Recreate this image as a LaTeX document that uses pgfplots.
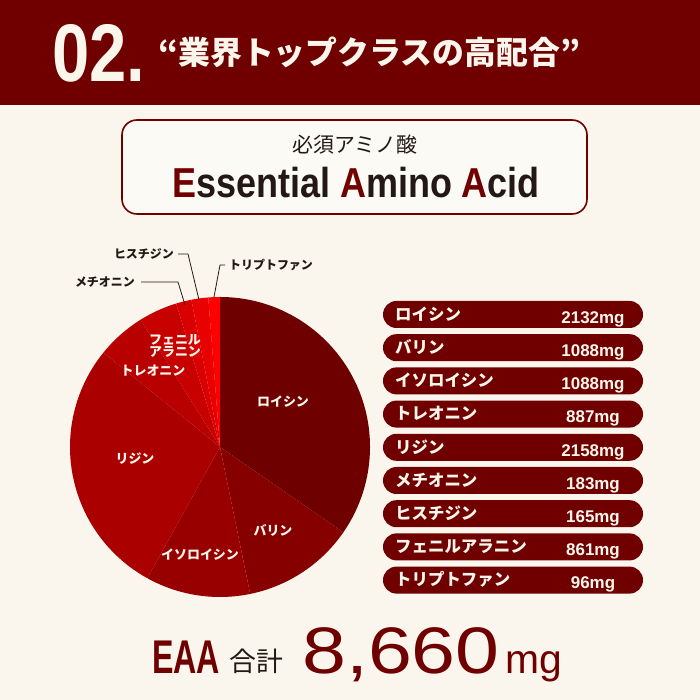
\documentclass[border=0pt]{standalone}
\usepackage{pgfplots}
\pgfplotsset{compat=1.18}
\usepackage{pgfplotstable}
\usepackage{fontspec}
\usepackage{graphicx}
\setmainfont{Liberation Sans}
\newfontfamily\jp{Noto Sans CJK JP}

\definecolor{bg}{HTML}{FAF6EE}
\definecolor{boxbg}{HTML}{FCFAF5}
\definecolor{dred}{HTML}{700000}
\definecolor{ink}{HTML}{231815}
\definecolor{cream}{HTML}{FBF6EC}
\definecolor{p1}{HTML}{6F0000}
\definecolor{p2}{HTML}{860000}
\definecolor{p3}{HTML}{980000}
\definecolor{p4}{HTML}{AA0000}
\definecolor{p5}{HTML}{B80000}
\definecolor{p6}{HTML}{C70000}
\definecolor{p7}{HTML}{D80000}
\definecolor{p8}{HTML}{E90000}
\definecolor{p9}{HTML}{FF0000}

% list on the right, mg per serving
\pgfplotstableread{
name mg
ロイシン 2132
バリン 1088
イソロイシン 1088
トレオニン 887
リジン 2158
メチオニン 183
ヒスチジン 165
フェニルアラニン 861
トリプトファン 96
}\amino

% pie, clockwise from 12 o'clock, slice angle in degrees as drawn
\pgfplotstableread{
name deg col
ロイシン 124.7 p1
バリン 43.7 p2
イソロイシン 40.6 p3
リジン 100.0 p4
トレオニン 19.0 p5
フェニルアラニン 15.0 p6
メチオニン 6.0 p7
ヒスチジン 6.5 p8
トリプトファン 4.5 p9
}\slices

\begin{document}
\begin{tikzpicture}[x=1bp,y=1bp]
\fill[bg] (0,0) rectangle (700,700);

% header
\fill[dred] (0,595) rectangle (700,700);
\node[anchor=base west,inner sep=0,text=cream] at (52,618)
  {\scalebox{0.82}[1]{\fontsize{82}{82}\selectfont\bfseries 02.}};
\node[anchor=west,inner sep=0,text=cream,font=\jp\bfseries\fontsize{32}{32}\selectfont]
  at (158,647.5) {“業界トップクラスの高配合”};

% title box
\draw[dred,line width=1.6,fill=boxbg,rounded corners=15] (122,486) rectangle (587,580);
\node[inner sep=0,text=ink,font=\jp\fontsize{21}{21}\selectfont] at (355,555) {必須アミノ酸};
\node[anchor=base,inner sep=0,text=ink] at (356,502)
  {\scalebox{0.86}[1]{\fontsize{42}{42}\selectfont\bfseries
   \textcolor{dred}{E}ssential \textcolor{dred}{A}mino \textcolor{dred}{A}cid}};

% pie
\begin{axis}[at={(220bp,253bp)},anchor=origin,scale only axis,
  width=300bp,height=300bp,xmin=-1,xmax=1,ymin=-1,ymax=1,
  hide axis,clip=false]
\def\startang{90}
\pgfplotsforeachungrouped \i in {0,...,8}{%
  \pgfplotstablegetelem{\i}{deg}\of\slices \let\d\pgfplotsretval
  \pgfplotstablegetelem{\i}{col}\of\slices \let\c\pgfplotsretval
  \pgfmathsetmacro\endang{\startang-\d}
  \pgfmathsetmacro\sx{cos(\startang)}
  \pgfmathsetmacro\sy{sin(\startang)}
  \edef\cmd{\noexpand\fill[\c] (axis cs:0,0) -- (axis cs:\sx,\sy)
    arc[start angle=\startang,end angle=\endang,radius=150bp] -- cycle;}
  \cmd
  \global\let\startang\endang
}
\end{axis}

% slice labels
\begin{scope}[every node/.style={inner sep=0,text=cream,font=\jp\bfseries\fontsize{13}{13}\selectfont}]
\node at (283,298) {ロイシン};
\node at (273,170) {バリン};
\node at (200,145) {イソロイシン};
\node at (135,241) {リジン};
\node at (153,329) {トレオニン};
\node[align=center] at (175,354) {フェニル\\[-1pt]アラニン};
\end{scope}

% leader lines for the thin slices
\begin{scope}[every node/.style={inner sep=0,text=ink,font=\jp\bfseries\fontsize{12}{12}\selectfont}]
\draw[ink,line width=0.8] (141,418) -- (178,418) -- (185,395);
\node[anchor=east] at (135,418) {メチオニン};
\draw[ink,line width=0.8] (178,446) -- (188,446) -- (199,400);
\node[anchor=east] at (174,446) {ヒスチジン};
\draw[ink,line width=0.8] (225,435) -- (220,435) -- (214,403);
\node[anchor=west] at (229,435) {トリプトファン};
\end{scope}

% list
\pgfplotsforeachungrouped \i in {0,...,8}{%
  \pgfplotstablegetelem{\i}{name}\of\amino \let\nm\pgfplotsretval
  \pgfplotstablegetelem{\i}{mg}\of\amino \let\v\pgfplotsretval
  \pgfmathsetmacro\yc{385.5-33.2*\i}
  \fill[dred,rounded corners=13.5] (383,\yc-13.5) rectangle (643,\yc+13.5);
  \node[anchor=west,inner sep=0,text=cream,font=\jp\bfseries\fontsize{16.5}{16.5}\selectfont]
    at (395,\yc+0.5) {\nm};
  \node[anchor=base,inner sep=0,text=cream,font=\bfseries\fontsize{17}{17}\selectfont]
    at (593,\yc-8.8) {\v mg};
}

% total
\node[anchor=base west,inner sep=0,text=dred] at (152,26)
  {\scalebox{0.68}[1]{\fontsize{47.5}{47.5}\selectfont\bfseries EAA}};
\node[anchor=base west,inner sep=0,text=ink,font=\jp\fontsize{27}{27}\selectfont] at (229,28) {合計};
\node[anchor=base west,inner sep=0,text=dred] at (302,26)
  {\scalebox{1.2}[1]{\fontsize{66}{66}\selectfont 8,660}};
\node[anchor=base west,inner sep=0,text=dred,font=\fontsize{41}{41}\selectfont] at (505,26) {mg};
\end{tikzpicture}
\end{document}
